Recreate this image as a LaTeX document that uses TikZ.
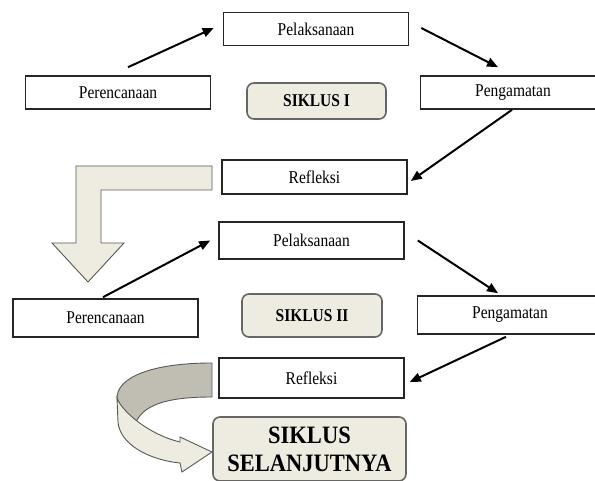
\documentclass[tikz,border=0pt]{standalone}
\usepackage{graphicx}
\usepackage{fontspec}
\setmainfont{Liberation Serif}
\usetikzlibrary{arrows.meta}
\definecolor{beige}{RGB}{238,236,225}
\definecolor{beigedark}{RGB}{192,189,178}
\newcommand{\narrowtxt}[2][0.86]{\scalebox{#1}[1]{#2}}

\begin{document}
\begin{tikzpicture}[x=1pt, y=-1pt,
        box/.style={draw=black!85, line width=1.6pt, minimum width=185pt, minimum height=33pt, inner sep=0pt, font=\fontsize{18}{20}\selectfont},
        siklus/.style={box, fill=beige, draw=black!60, rounded corners=7pt, minimum width=139pt, font=\fontsize{18}{20}\selectfont\bfseries},
        arr/.style={-{Triangle[length=11pt,width=9pt]}, line width=2pt},
        band/.style={draw=black!65, line width=0.9pt}]
        \useasboundingbox (0,0) rectangle (595,481);

        \node (Pl1) [box]                                   at (316,29)    {\narrowtxt{Pelaksanaan}};
        \node (Pr1) [box]                                   at (118,92.5)  {\narrowtxt{Perencanaan}};
        \node (S1)  [siklus, minimum height=36pt]           at (316.5,101) {\narrowtxt{SIKLUS I}};
        \node (Pg1) [box]                                   at (513,92.5)  {\narrowtxt{Pengamatan}};
        \node (Rf1) [box, minimum height=34pt]              at (314.5,177) {\narrowtxt{Refleksi}};

        \node (Pl2) [box, minimum height=37pt]              at (311.5,240.5) {\narrowtxt{Pelaksanaan}};
        \node (Pr2) [box, minimum height=38pt]              at (105.5,318)   {\narrowtxt{Perencanaan}};
        \node (S2)  [siklus, minimum width=140pt, minimum height=43pt] at (312,315.5) {\narrowtxt{SIKLUS II}};
        \node (Pg2) [box, minimum height=38pt]              at (510,315)     {\narrowtxt{Pengamatan}};
        \node (Rf2) [box, minimum height=40pt]              at (311.5,378)   {\narrowtxt{Refleksi}};
        \node (Sn)  [siklus, minimum width=193pt, minimum height=64pt, align=center,
                     font=\fontsize{25}{28}\selectfont\bfseries] at (309.5,449)
                     {\narrowtxt[0.9]{SIKLUS}\\\narrowtxt[0.9]{SELANJUTNYA}};

        \draw[arr] ([xshift=10pt,yshift=8pt]Pr1.north) -- ([xshift=-9pt,yshift=1pt]Pl1.west);
        \draw[arr] ([xshift=12pt,yshift=1pt]Pl1.east) -- ([xshift=-15pt,yshift=8pt]Pg1.north);
        \draw[arr] ([xshift=-1pt]Pg1.south) -- ([xshift=3pt,yshift=-4pt]Rf1.east);

        \draw[arr] ([xshift=-2.5pt,yshift=1pt]Pr2.north) -- ([xshift=-8pt]Pl2.west);
        \draw[arr] ([xshift=13pt]Pl2.east) -- ([xshift=-12pt,yshift=2pt]Pg2.north);
        \draw[arr] ([xshift=-4pt,yshift=-2pt]Pg2.south) -- ([xshift=5pt,yshift=-4pt]Rf2.east);

        \draw[band, fill=beige] (212,166) -- (76,166) -- (76,243) -- (52,243) -- (88,282)
            -- (124,243) -- (101,243) -- (101,190) -- (212,190) -- cycle;

        \draw[band, fill=beigedark] (212,363) .. controls (150,363) and (117,378) .. (117,398)
            -- (121,412) -- (136,422) .. controls (145,402) and (175,397) .. (212,397) -- cycle;
        \draw[band, fill=beige] (117,398) .. controls (122,412) and (150,435) .. (180,442)
            -- (180,437) -- (212,452) -- (182,472) -- (180,463)
            .. controls (150,460) and (120,445) .. (118,422) -- cycle;
    \end{tikzpicture}
\end{document}
